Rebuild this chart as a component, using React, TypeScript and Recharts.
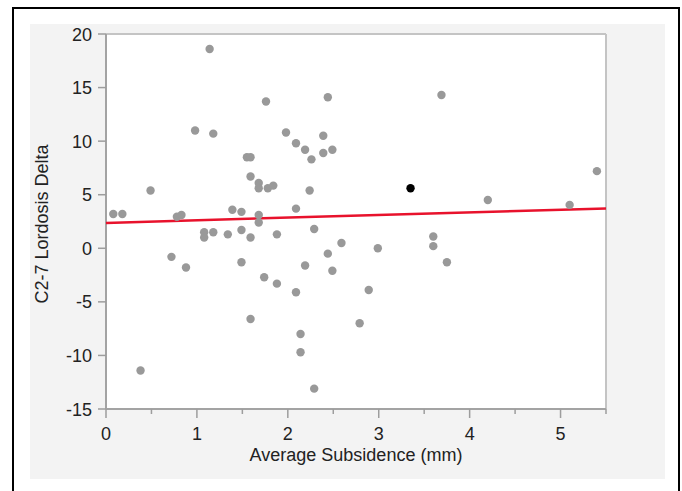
import { ScatterChart, Scatter, XAxis, YAxis, CartesianGrid, ReferenceLine } from "recharts";

// subsidence (mm) vs C2-7 lordosis change
const subsidence = [
  1.14, 1.76, 2.44, 0.98, 1.18, 1.98, 2.09, 2.19, 2.26, 2.39, 2.39, 2.49,
  1.55, 1.59, 1.59, 1.68, 1.68, 1.78, 1.84, 2.24, 0.49, 0.08, 0.18, 0.78,
  0.83, 1.39, 1.49, 1.68, 1.68, 2.09, 1.08, 1.08, 1.18, 1.34, 1.49, 1.59,
  1.88, 2.29, 2.59, 2.44, 2.49, 2.19, 0.72, 0.88, 1.49, 1.74, 1.88, 2.09,
  1.59, 2.14, 2.14, 2.29, 0.38, 3.69, 4.2, 5.1, 5.4, 2.99, 3.6, 3.6,
  3.75, 2.89, 2.79,
];
const lordosisDelta = [
  18.6, 13.7, 14.1, 11.0, 10.7, 10.8, 9.8, 9.2, 8.3, 10.5, 8.9, 9.2,
  8.5, 8.5, 6.7, 6.1, 5.6, 5.6, 5.85, 5.4, 5.4, 3.2, 3.2, 2.95,
  3.1, 3.6, 3.4, 3.1, 2.4, 3.7, 1.5, 1.0, 1.5, 1.3, 1.7, 1.0,
  1.3, 1.8, 0.5, -0.5, -2.1, -1.6, -0.8, -1.8, -1.3, -2.7, -3.3, -4.1,
  -6.6, -8.0, -9.7, -13.1, -11.4, 14.3, 4.5, 4.05, 7.2, 0.0, 1.1, 0.2,
  -1.3, -3.9, -7.0,
];
const highlighted = [{ x: 3.35, y: 5.6 }];
const fitLine = [
  { x: 0, y: 2.37 },
  { x: 5.5, y: 3.72 },
];
const xTicks = [0, 0.5, 1, 1.5, 2, 2.5, 3, 3.5, 4, 4.5, 5, 5.5];
const yTicks = [-15, -10, -5, 0, 5, 10, 15, 20];

const points = subsidence.map((x, i) => ({ x, y: lordosisDelta[i] }));

const FONT = "'Liberation Sans', Arial, sans-serif";
const TEXT = "#222";

const XTick = (props: any) => {
  const { x, y, payload } = props;
  const major = Number.isInteger(payload.value);
  return (
    <g>
      <line x1={x} x2={x} y1={y} y2={y + (major ? 9 : 5)} stroke="#9d9d9d" strokeWidth={1.5} />
      {major && (
        <text x={x} y={y + 31} textAnchor="middle" fontSize={18} fontFamily={FONT} fill={TEXT}>
          {payload.value}
        </text>
      )}
    </g>
  );
};

const YTick = (props: any) => {
  const { x, y, payload } = props;
  return (
    <g>
      <line x1={x - 8} x2={x} y1={y} y2={y} stroke="#9d9d9d" strokeWidth={1.5} />
      <text x={x - 14} y={y + 6.5} textAnchor="end" fontSize={18} fontFamily={FONT} fill={TEXT}>
        {payload.value}
      </text>
    </g>
  );
};

const Dot = (color: string) => (props: any) => <circle cx={props.cx} cy={props.cy} r={4.2} fill={color} />;

export default function App() {
  return (
    <div style={{ position: "absolute", left: 0, top: 0, width: 682, height: 491, overflow: "hidden", background: "#fff" }}>
      <div style={{ position: "absolute", left: 12, top: 7, width: 664, height: 520, border: "2px solid #000" }} />
      <div style={{ position: "absolute", left: 30, top: 24, width: 635, height: 455, background: "#f3f3f3" }} />
      <div
        style={{
          position: "absolute",
          left: 41.5,
          top: 223.5,
          transform: "translate(-50%, -50%) rotate(-90deg)",
          whiteSpace: "nowrap",
          fontFamily: FONT,
          fontSize: 18,
          lineHeight: 1,
          color: TEXT,
        }}
      >
        C2-7 Lordosis Delta
      </div>
      <div style={{ position: "absolute", left: 0, top: 0 }}>
        <ScatterChart width={682} height={491} margin={{ top: 34, right: 76, bottom: 81, left: 105 }}>
          <CartesianGrid horizontal={false} vertical={false} fill="#fff" />
          <XAxis
            type="number"
            dataKey="x"
            domain={[0, 5.5]}
            ticks={xTicks}
            interval={0}
            height={1}
            tickSize={0}
            tickMargin={0}
            tickLine={false}
            tick={<XTick />}
            axisLine={{ stroke: "#a3a3a3", strokeWidth: 2 }}
            label={{ value: "Average Subsidence (mm)", position: "bottom", offset: 38, fontSize: 18, fontFamily: FONT, fill: TEXT }}
          />
          <YAxis
            type="number"
            dataKey="y"
            domain={[-15, 20]}
            ticks={yTicks}
            interval={0}
            width={1}
            tickSize={0}
            tickMargin={0}
            tickLine={false}
            tick={<YTick />}
            axisLine={{ stroke: "#a3a3a3", strokeWidth: 2 }}
          />
          <ReferenceLine y={20} stroke="#c4c4c4" strokeWidth={2} />
          <ReferenceLine x={5.5} stroke="#c4c4c4" strokeWidth={2} />
          <Scatter data={fitLine} line={{ stroke: "#e8122c", strokeWidth: 2.5 }} shape={() => <g />} isAnimationActive={false} />
          <Scatter data={points} shape={Dot("#999999")} isAnimationActive={false} />
          <Scatter data={highlighted} shape={Dot("#000000")} isAnimationActive={false} />
        </ScatterChart>
      </div>
    </div>
  );
}
